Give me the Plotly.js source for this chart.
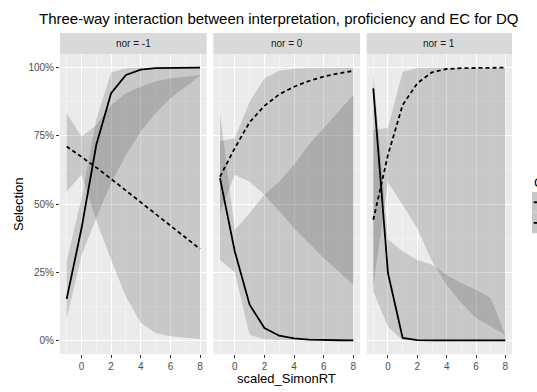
<!DOCTYPE html>
<html><head><meta charset="utf-8">
<script src="https://cdn.plot.ly/plotly-3.0.1.min.js"></script>
<style>html,body{margin:0;padding:0;overflow:hidden;background:#fff}</style>
</head><body><div id="chart" style="width:537px;height:392px"></div>
<script>
// ---- data ----
const scaled_SimonRT = [-1, 0, 1, 2, 3, 4, 5, 6, 7, 8];
const facetLabels = ["nor = -1", "nor = 0", "nor = 1"];
const groupNames = ["A", "B"];
const legendTitle = "Condition";
const yTickVals = [0, 0.25, 0.5, 0.75, 1];
const yTickText = ["0%", "25%", "50%", "75%", "100%"];
const xTickVals = [0, 2, 4, 6, 8];

// nor = -1
const m1SolidFit = [0.152, 0.41, 0.717, 0.906, 0.973, 0.993, 0.998, 0.9995, 0.9999, 1.0];
const m1SolidLo  = [0.08, 0.31, 0.45, 0.577, 0.68, 0.766, 0.833, 0.888, 0.93, 0.97];
const m1SolidHi  = [0.29, 0.52, 0.81, 0.982, 0.998, 1.0, 1.0, 1.0, 1.0, 1.0];
const m1DashFit  = [0.711, 0.673, 0.634, 0.592, 0.549, 0.505, 0.461, 0.418, 0.376, 0.335];
const m1DashLo   = [0.546, 0.607, 0.44, 0.296, 0.16, 0.064, 0.027, 0.015, 0.009, 0.005];
const m1DashHi   = [0.833, 0.747, 0.79, 0.863, 0.906, 0.93, 0.949, 0.961, 0.967, 0.973];

// nor = 0
const z0SolidFit = [0.595, 0.326, 0.131, 0.045, 0.017, 0.007, 0.003, 0.001, 0.0005, 0.0002];
const z0SolidLo  = [0.296, 0.25, 0.02, 0.004, 0.001, 0.0, 0.0, 0.0, 0.0, 0.0];
const z0SolidHi  = [0.833, 0.405, 0.467, 0.534, 0.582, 0.644, 0.717, 0.778, 0.839, 0.90];
const z0DashFit  = [0.60, 0.705, 0.80, 0.86, 0.902, 0.93, 0.951, 0.967, 0.979, 0.988];
const z0DashLo   = [0.47, 0.607, 0.582, 0.534, 0.473, 0.412, 0.357, 0.302, 0.253, 0.204];
const z0DashHi   = [0.73, 0.741, 0.875, 0.961, 0.989, 0.996, 0.998, 0.999, 0.9995, 0.9998];

// nor = 1
const p1SolidFit = [0.924, 0.247, 0.009, 0.001, 0.0002, 0.0, 0.0, 0.0, 0.0, 0.0];
const p1SolidLo  = [0.18, 0.05, 0.0005, 0.0, 0.0, 0.0, 0.0, 0.0, 0.0, 0.0];
const p1SolidHi  = [0.98, 0.37, 0.326, 0.295, 0.277, 0.24, 0.21, 0.186, 0.155, 0.02];
const p1DashFit  = [0.442, 0.68, 0.863, 0.943, 0.983, 0.995, 0.998, 0.999, 1.0, 1.0];
const p1DashLo   = [0.20, 0.58, 0.497, 0.41, 0.29, 0.204, 0.137, 0.082, 0.052, 0.02];
const p1DashHi   = [0.77, 0.78, 0.985, 0.998, 1.0, 1.0, 1.0, 1.0, 1.0, 1.0];

const panels = [
  {solid: [m1SolidFit, m1SolidLo, m1SolidHi], dash: [m1DashFit, m1DashLo, m1DashHi]},
  {solid: [z0SolidFit, z0SolidLo, z0SolidHi], dash: [z0DashFit, z0DashLo, z0DashHi]},
  {solid: [p1SolidFit, p1SolidLo, p1SolidHi], dash: [p1DashFit, p1DashLo, p1DashHi]}
];

// ---- styling ----
const FONT = 'Liberation Sans, Arial, Helvetica, sans-serif';
const ribbonFill = 'rgba(60,60,60,0.2)';
const domains = [[0, 0.3246], [0.3392, 0.6637], [0.6785, 1]];

const traces = [];
panels.forEach((p, i) => {
  const xa = i === 0 ? 'x' : 'x' + (i + 1);
  const ya = i === 0 ? 'y' : 'y' + (i + 1);
  [p.solid, p.dash].forEach(g => {
    const [fit, lo, hi] = g;
    traces.push({
      type: 'scatter', mode: 'lines', xaxis: xa, yaxis: ya,
      x: scaled_SimonRT.concat(scaled_SimonRT.slice().reverse()),
      y: hi.concat(lo.slice().reverse()),
      fill: 'toself', fillcolor: ribbonFill, line: {width: 0},
      hoverinfo: 'skip', showlegend: false
    });
  });
  [[p.solid, 'solid', groupNames[0]], [p.dash, '4px,3px', groupNames[1]]].forEach(([g, dash, nm]) => {
    traces.push({
      type: 'scatter', mode: 'lines', xaxis: xa, yaxis: ya, name: nm,
      x: scaled_SimonRT, y: g[0],
      line: {color: '#000', width: 1.8, dash: dash},
      showlegend: false
    });
  });
});

const tickFont = {family: FONT, size: 10, color: '#4D4D4D'};
function xAxis(i) {
  return {
    domain: domains[i], anchor: i === 0 ? 'y' : 'y' + (i + 1),
    range: [-1.45, 8.45], tickvals: xTickVals, ticks: 'outside', ticklen: 3,
    tickcolor: '#333', tickwidth: 1, tickfont: tickFont,
    showgrid: true, gridcolor: '#FFFFFF', gridwidth: 1, zeroline: false, showline: false,
    minor: {tickmode: 'linear', tick0: -1, dtick: 2, showgrid: true, gridcolor: '#F6F6F6', gridwidth: 0.6, ticks: ''},
    fixedrange: true
  };
}
function yAxis(i) {
  return {
    domain: [0, 1], anchor: i === 0 ? 'x' : 'x' + (i + 1),
    range: [-0.05, 1.05], tickvals: yTickVals, ticktext: yTickText,
    showticklabels: i === 0, ticks: i === 0 ? 'outside' : '', ticklen: 3,
    tickcolor: '#333', tickwidth: 1, tickfont: tickFont,
    showgrid: true, gridcolor: '#FFFFFF', gridwidth: 1, zeroline: false, showline: false,
    minor: {tickmode: 'linear', tick0: 0.125, dtick: 0.25, showgrid: true, gridcolor: '#F6F6F6', gridwidth: 0.6, ticks: ''},
    fixedrange: true
  };
}

const shapes = [];
const annotations = [];
domains.forEach((d, i) => {
  shapes.push({type: 'rect', xref: 'paper', yref: 'paper', x0: d[0], x1: d[1], y0: 1, y1: 1.07,
    fillcolor: '#D9D9D9', line: {width: 0}, layer: 'below'});
  annotations.push({xref: 'paper', yref: 'paper', x: (d[0] + d[1]) / 2, y: 1.035, text: facetLabels[i],
    showarrow: false, xanchor: 'center', yanchor: 'middle',
    font: {family: FONT, size: 10, color: '#1A1A1A'}});
});
// axis titles
annotations.push({xref: 'paper', yref: 'paper', x: 0.5, y: -0.08, text: 'scaled_SimonRT', showarrow: false,
  xanchor: 'center', yanchor: 'middle', font: {family: FONT, size: 13, color: '#000'}});
annotations.push({xref: 'paper', yref: 'paper', x: -0.093, y: 0.5, text: 'Selection', showarrow: false, textangle: -90,
  xanchor: 'center', yanchor: 'middle', font: {family: FONT, size: 13, color: '#000'}});
// partially visible legend (cut off at the right edge like the reference)
annotations.push({xref: 'paper', yref: 'paper', x: 1.0442, y: 0.5733, text: legendTitle, showarrow: false,
  xanchor: 'left', yanchor: 'middle', font: {family: FONT, size: 13, color: '#000'}});
[[0.54, 0.4713, 'solid'], [0.4713, 0.4027, 'dash']].forEach(([top, bot, dash]) => {
  shapes.push({type: 'rect', xref: 'paper', yref: 'paper', x0: 1.0442, x1: 1.085, y0: bot, y1: top,
    fillcolor: '#C8C8C8', line: {width: 0}});
  shapes.push({type: 'line', xref: 'paper', yref: 'paper', x0: 1.048, x1: 1.08, y0: (top + bot) / 2, y1: (top + bot) / 2,
    line: {color: '#000', width: 1.8, dash: dash}});
});

const layout = {
  width: 537, height: 392,
  margin: {l: 60, r: 25, t: 54, b: 38},
  paper_bgcolor: '#FFFFFF', plot_bgcolor: '#EBEBEB',
  title: {text: 'Three-way interaction between interpretation, proficiency and EC for DQ',
    xref: 'container', yref: 'container', x: 0.519, y: 0.951, xanchor: 'center', yanchor: 'middle',
    font: {family: FONT, size: 15, color: '#000'}},
  showlegend: false,
  xaxis: xAxis(0), xaxis2: xAxis(1), xaxis3: xAxis(2),
  yaxis: yAxis(0), yaxis2: yAxis(1), yaxis3: yAxis(2),
  shapes: shapes, annotations: annotations
};

Plotly.newPlot('chart', traces, layout, {staticPlot: true, displayModeBar: false});
</script>
</body></html>
